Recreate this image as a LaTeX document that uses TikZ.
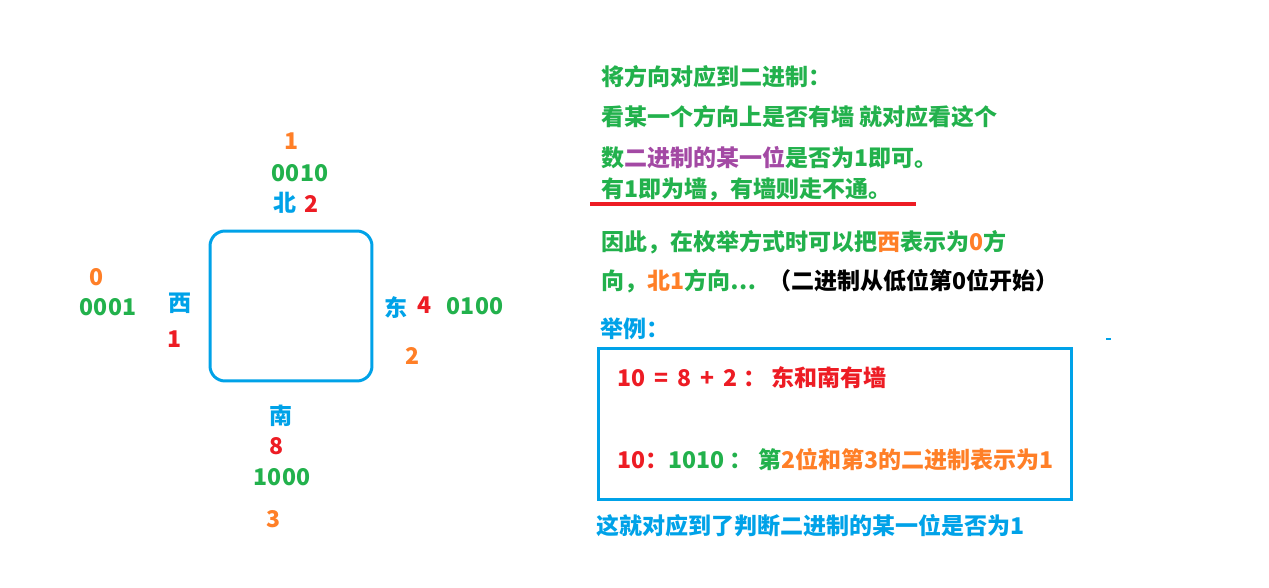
\documentclass[tikz,border=0pt]{standalone}
\usepackage{fontspec}
\setmainfont{Noto Sans CJK SC}
\usetikzlibrary{positioning}
\definecolor{pgreen}{RGB}{34,177,76}
\definecolor{porange}{RGB}{255,127,39}
\definecolor{pred}{RGB}{237,28,36}
\definecolor{pblue}{RGB}{0,162,232}
\definecolor{ppurple}{RGB}{163,73,164}
\begin{document}
\begin{tikzpicture}[x=0.02cm, y=-0.02cm, inner sep=0pt,
    font=\bfseries\fontsize{13.1}{15}\selectfont,
    txt/.style={anchor=west, text=pgreen}]
    \useasboundingbox (0,0) rectangle (1269,588);

    \node[draw=pblue, line width=1.7pt, rounded corners=0.3cm,
        minimum width=3.24cm, minimum height=3cm] (cell) at (291,306) {};

    \node[text=porange] (nbit) at (292,141) {1};
    \node[text=pgreen] (nbin) at (300,173) {0010};
    \node[text=pblue] (north) at (285,203) {北};
    \node[text=pred] (nval) at (312,204) {2};

    \node[text=porange] (wbit) at (97,277) {0};
    \node[text=pgreen] (wbin) at (108,307) {0001};
    \node[text=pblue] (west) at (180,303) {西};
    \node[text=pred] (wval) at (175,339) {1};

    \node[text=pblue] (east) at (396,308) {东};
    \node[text=pred] (eval) at (425,305) {4};
    \node[text=pgreen] (ebin) at (475,306) {0100};
    \node[text=porange] (ebit) at (413,356) {2};

    \node[text=pblue] (south) at (281,416) {南};
    \node[text=pred] (sval) at (277,446) {8};
    \node[text=pgreen] (sbin) at (282,477) {1000};
    \node[text=porange] (sbit) at (274,519) {3};

    \node[txt] (l1) at (601,77) {将方向对应到二进制：};
    \node[txt] (l2) at (601,117) {看某一个方向上是否有墙 就对应看这个};
    \node[txt] (l3) at (601,158) {数\textcolor{ppurple}{二进制的某一位}是否为1即可。};
    \node[txt] (l4) at (601,189) {有1即为墙，有墙则走不通。};
    \draw[pred, line width=2.2pt] (590,204) -- (916,204);
    \node[txt] (l5) at (601,242) {因此，在枚举方式时可以把\textcolor{porange}{西}表示为\textcolor{porange}{0}方};
    \node[txt] (l6) at (601,281) {向，\textcolor{porange}{北1}方向…};
    \node[txt, text=black] (note) at (768,281) {（二进制从低位第0位开始）};

    \node[txt, text=pblue] (eg) at (600,329) {举例：};
    \draw[pblue, line width=1pt] (1106,339) -- (1111,339);
    \node[draw=pblue, line width=1.7pt, minimum width=9.48cm,
        minimum height=3.04cm] (box) at (835,424) {};
    \node[txt, text=pred] (ex1) at (617,378) {10 \,=\, 8 \,+\, 2 ：\ 东和南有墙};
    \node[txt] (ex2) at (617,460) {\textcolor{pred}{10：}1010 ：\ 第\textcolor{porange}{2位和第3的二进制表示为1}};
    \node[txt, text=pblue] (concl) at (596,526) {这就对应到了判断二进制的某一位是否为1};
\end{tikzpicture}
\end{document}
